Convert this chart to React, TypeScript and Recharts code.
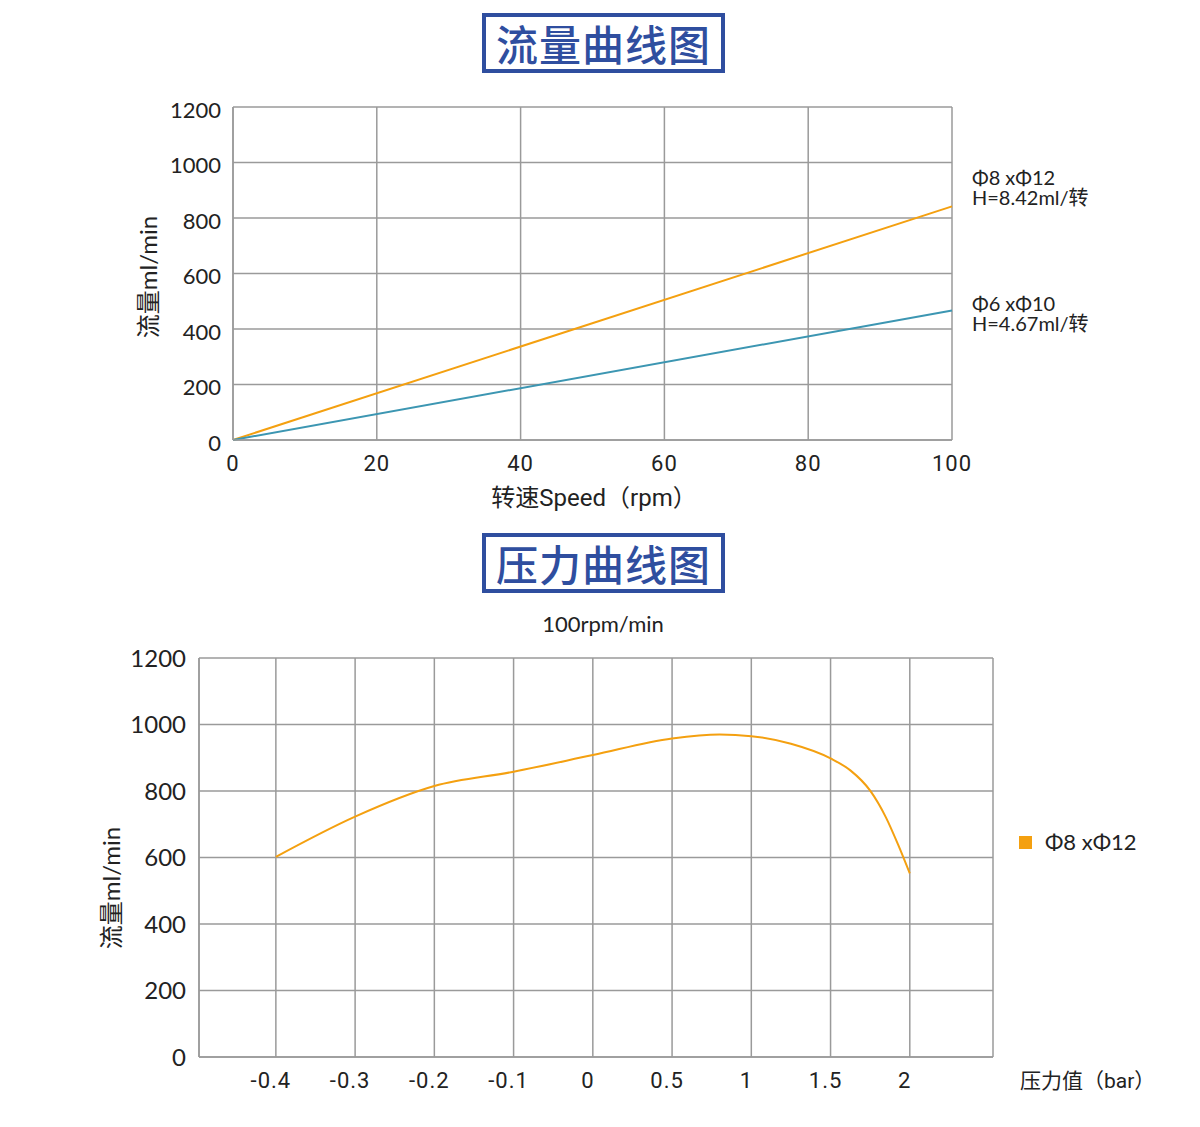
import React from "react";
import {
  CartesianGrid,
  Line,
  LineChart,
  XAxis,
  YAxis,
} from "recharts";

// flow curve: speed (rpm) vs flow (ml/min)
const speeds = [0, 100];
const flowLarge = [0, 842]; // Φ8 xΦ12, H=8.42ml/转
const flowSmall = [0, 467]; // Φ6 xΦ10, H=4.67ml/转
const speedTicks = [0, 20, 40, 60, 80, 100];
const flowTicks = [0, 200, 400, 600, 800, 1000, 1200];

// pressure curve: pressure axis is categorical (-0.4 … 2), positions are slot indexes
const pressureLabels = ["-0.4", "-0.3", "-0.2", "-0.1", "0", "0.5", "1", "1.5", "2"];
const pressurePos = [0, 1, 2, 3, 4, 5, 5.6, 6, 6.5, 7, 7.25, 7.5, 7.7, 7.85, 8];
const pressureFlow = [602, 723, 815, 858, 908, 958, 970, 965, 942, 898, 862, 801, 720, 640, 552];
const pressureTicks = [0, 1, 2, 3, 4, 5, 6, 7, 8, 9.05];

const ORANGE = "#F4A010";
const TEAL = "#3C96B2";
const GRID = "#9a9a9a";
const TITLE_BLUE = "#2F4E9F";
const TEXT = "#222";
const ROUND = "'Lato', 'Noto Sans CJK SC', sans-serif";
const NARROW = "'Roboto', 'Noto Sans CJK SC', sans-serif";

const flowData = speeds.map((s, i) => ({
  speed: s,
  large: flowLarge[i],
  small: flowSmall[i],
}));

const pressureData = pressurePos.map((p, i) => ({
  pos: p,
  flow: pressureFlow[i],
}));

function TitleBox({ text, top }: { text: string; top: number }) {
  return (
    <div
      style={{
        position: "absolute",
        left: 482,
        top,
        width: 243,
        height: 60,
        boxSizing: "border-box",
        border: `4px solid ${TITLE_BLUE}`,
        color: TITLE_BLUE,
        fontFamily: "'Noto Sans CJK SC', sans-serif",
        fontWeight: 500,
        fontSize: 42,
        lineHeight: "52px",
        textAlign: "center",
        letterSpacing: 1,
      }}
    >
      {text}
    </div>
  );
}

function Txt({
  x,
  y,
  size,
  children,
  font = ROUND,
  center = false,
}: {
  x: number;
  y: number;
  size: number;
  children: React.ReactNode;
  font?: string;
  center?: boolean;
}) {
  return (
    <div
      style={{
        position: "absolute",
        left: x,
        top: y,
        transform: center ? "translate(-50%, -50%)" : "translateY(-50%)",
        fontFamily: font,
        fontSize: size,
        color: TEXT,
        whiteSpace: "nowrap",
        lineHeight: 1,
      }}
    >
      {children}
    </div>
  );
}

function VText({ x, y, size, text }: { x: number; y: number; size: number; text: string }) {
  return (
    <div
      style={{
        position: "absolute",
        left: x,
        top: y,
        transform: "translate(-50%, -50%) rotate(-90deg)",
        fontFamily: ROUND,
        fontSize: size,
        color: TEXT,
        whiteSpace: "nowrap",
        lineHeight: 1,
      }}
    >
      {text}
    </div>
  );
}

export default function App(): React.JSX.Element {
  return (
    <div
      style={{
        position: "absolute",
        left: 0,
        top: 0,
        width: 1200,
        height: 1127,
        background: "#fff",
        overflow: "hidden",
      }}
    >
      <TitleBox text="流量曲线图" top={13} />

      <div style={{ position: "absolute", left: 0, top: 0 }}>
        <LineChart
          width={1200}
          height={520}
          data={flowData}
          margin={{ top: 107, right: 248, bottom: 50, left: 173 }}
        >
          <CartesianGrid stroke={GRID} strokeWidth={1.5} />
          <XAxis
            dataKey="speed"
            type="number"
            domain={[0, 100]}
            ticks={speedTicks}
            height={30}
            tickLine={false}
            tickMargin={9}
            axisLine={{ stroke: GRID, strokeWidth: 1.5 }}
            tick={{ fill: TEXT, fontSize: 22, fontFamily: NARROW, letterSpacing: 1 }}
          />
          <YAxis
            type="number"
            domain={[0, 1200]}
            ticks={flowTicks}
            width={60}
            tickLine={false}
            tickMargin={6}
            axisLine={{ stroke: GRID, strokeWidth: 1.5 }}
            tick={{ fill: TEXT, fontSize: 22, fontFamily: ROUND, dy: 3 }}
          />
          <Line
            type="linear"
            dataKey="large"
            stroke={ORANGE}
            strokeWidth={2}
            dot={false}
            isAnimationActive={false}
          />
          <Line
            type="linear"
            dataKey="small"
            stroke={TEAL}
            strokeWidth={2}
            dot={false}
            isAnimationActive={false}
          />
        </LineChart>
      </div>

      <VText x={148} y={277} size={24} text="流量ml/min" />
      <Txt x={594} y={498} size={24} font={NARROW} center>
        转速Speed（rpm）
      </Txt>
      <Txt x={972} y={177} size={20}>Φ8 xΦ12</Txt>
      <Txt x={972} y={197} size={20}>H=8.42ml/转</Txt>
      <Txt x={972} y={303} size={20}>Φ6 xΦ10</Txt>
      <Txt x={972} y={323} size={20}>H=4.67ml/转</Txt>

      <TitleBox text="压力曲线图" top={533} />
      <Txt x={603} y={624} size={22} center>100rpm/min</Txt>

      <div style={{ position: "absolute", left: 0, top: 600 }}>
        <LineChart
          width={1200}
          height={527}
          data={pressureData}
          margin={{ top: 58, right: 207, bottom: 40, left: 129 }}
        >
          <CartesianGrid stroke={GRID} strokeWidth={1.5} />
          <XAxis
            dataKey="pos"
            type="number"
            domain={[-0.97, 9.05]}
            ticks={pressureTicks}
            tickFormatter={(v: number) => pressureLabels[v] ?? ""}
            height={30}
            tickLine={false}
            tickMargin={9}
            axisLine={{ stroke: GRID, strokeWidth: 1.5 }}
            tick={{ fill: TEXT, fontSize: 22, fontFamily: NARROW, letterSpacing: 1, dx: -5 }}
          />
          <YAxis
            type="number"
            domain={[0, 1200]}
            ticks={flowTicks}
            width={70}
            tickLine={false}
            tickMargin={7}
            axisLine={{ stroke: GRID, strokeWidth: 1.5 }}
            tick={{ fill: TEXT, fontSize: 24, fontFamily: ROUND }}
          />
          <Line
            type="monotone"
            dataKey="flow"
            stroke={ORANGE}
            strokeWidth={2}
            dot={false}
            isAnimationActive={false}
          />
        </LineChart>
      </div>

      <VText x={111} y={888} size={24} text="流量ml/min" />
      <div
        style={{
          position: "absolute",
          left: 1019,
          top: 836,
          width: 13,
          height: 13,
          background: ORANGE,
        }}
      />
      <Txt x={1045} y={842} size={22}>Φ8 xΦ12</Txt>
      <Txt x={1020} y={1081} size={21} font={NARROW}>压力值（bar）</Txt>
    </div>
  );
}
